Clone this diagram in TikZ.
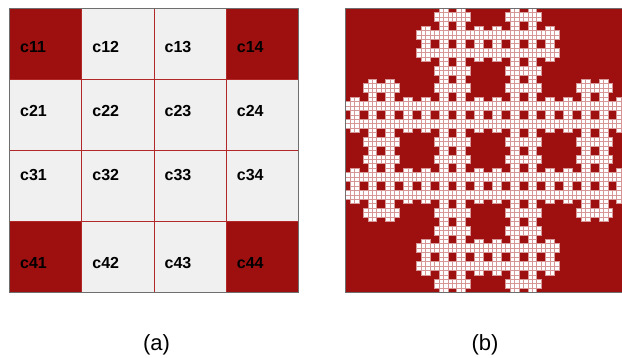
\documentclass[tikz,border=0pt]{standalone}
\usepackage{fontspec}
\setmainfont{Liberation Sans}
\definecolor{dred}{RGB}{158,16,16}
\definecolor{lgray}{RGB}{240,240,240}
\definecolor{gline}{RGB}{178,40,40}
\definecolor{pline}{RGB}{214,150,150}
\definecolor{bord}{RGB}{110,110,110}
\tikzset{
  cellred/.style={fill=dred},
  cellgray/.style={fill=lgray},
  gridline/.style={draw=gline,line width=0.8pt},
  celllab/.style={anchor=west,inner sep=0pt,font=\fontsize{16}{16}\selectfont\bfseries},
  caption/.style={inner sep=0pt,font=\fontsize{22}{22}\selectfont},
  fcell/.style={fill=white,draw=pline,line width=0.7pt},
  panelborder/.style={draw=bord,line width=0.8pt}
}
\def\keep{1/0,2/0,0/1,1/1,2/1,3/1,0/2,1/2,2/2,3/2,1/3,2/3}
\begin{document}
\begin{tikzpicture}[x=1pt,y=1pt]
\useasboundingbox (0,0) rectangle (622,358);
% ---------- (a) grid ----------
\begin{scope}[shift={(9.5,349.7)},x=72.25pt,y=-71.05pt]
  \foreach \c in {0,...,3}{
    \foreach \r in {0,...,3}{
      \fill[cellgray] (\c,\r) rectangle ++(1,1);
    }
  }
  \foreach \c/\r in {0/0,3/0,0/3,3/3}{
    \fill[cellred] (\c,\r) rectangle ++(1,1);
  }
  \foreach \i in {1,2,3}{
    \draw[gridline] (\i,0) -- (\i,4);
    \draw[gridline] (0,\i) -- (4,\i);
  }
  \draw[panelborder] (0,0) rectangle (4,4);
\end{scope}
% labels
\foreach \r/\yy in {1/311,2/247,3/183,4/95}{
  \foreach \c in {1,2,3,4}{
    \node[celllab] (lab\r\c) at ({9.5+(\c-1)*72.25+10.5},\yy) {c\r\c};
  }
}
% ---------- (b) fractal ----------
\begin{scope}
  \clip (340,0) rectangle (622,358);
  \fill[dred] (345.7,65.3) rectangle (630.1,349.7);
  \begin{scope}[shift={(345.7,349.7)},x=4.444pt,y=-4.444pt]
    \foreach \a/\b in \keep {
      \foreach \c/\d in \keep {
        \foreach \e/\f in \keep {
          \filldraw[fcell] ({16*\a+4*\c+\e},{16*\b+4*\d+\f}) rectangle ++(1,1);
        }
      }
    }
  \end{scope}
  \draw[panelborder] (630.1,349.7) -- (345.7,349.7) -- (345.7,65.3) -- (630.1,65.3);
\end{scope}
% captions
\node[caption] (capa) at (156.5,13.5) {(a)};
\node[caption] (capb) at (485,13.5) {(b)};
\end{tikzpicture}
\end{document}
